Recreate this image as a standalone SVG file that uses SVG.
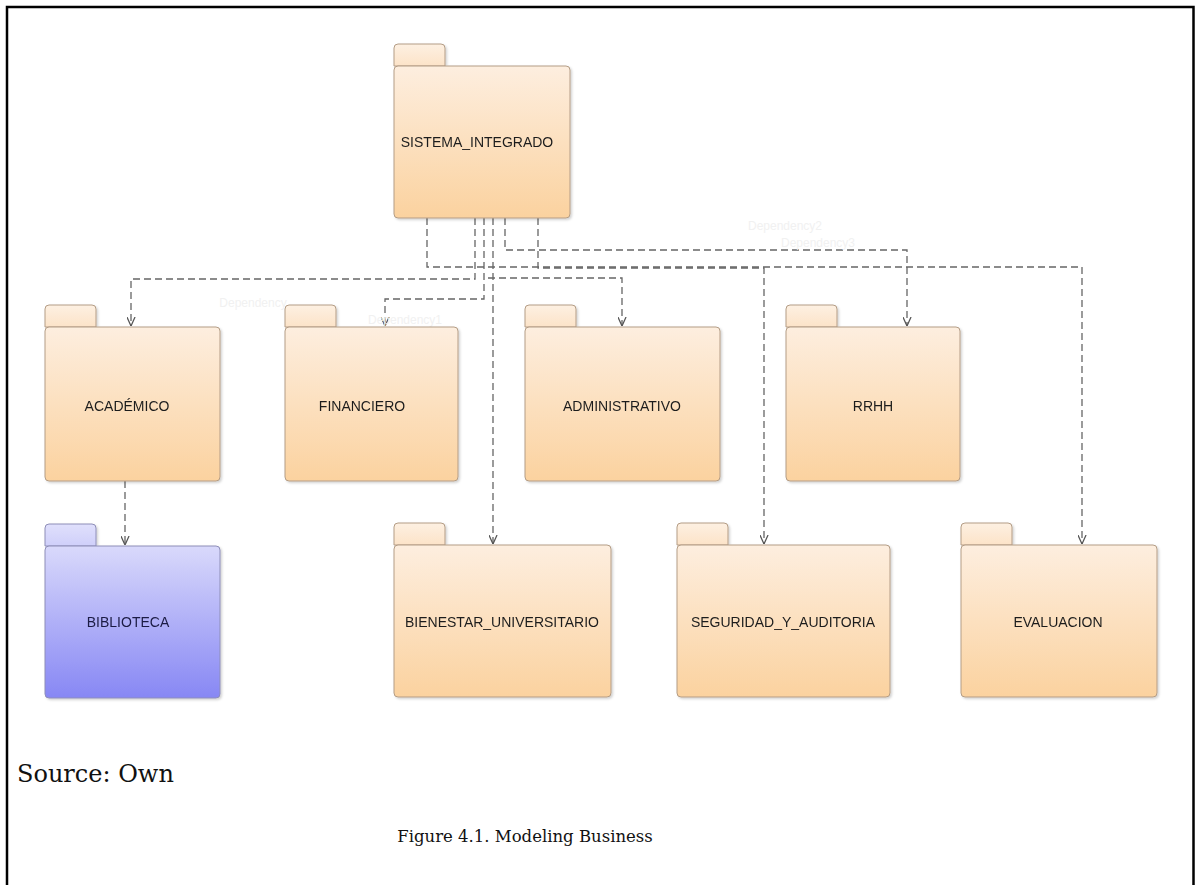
<svg xmlns="http://www.w3.org/2000/svg" width="1195" height="885" viewBox="0 0 1195 885">
<style>
.lbl{font-family:"Liberation Sans",Arial,sans-serif;font-size:14px;fill:#1e1e1e;text-anchor:middle}
.blbl{font-family:"Liberation Sans",Arial,sans-serif;font-size:14px;fill:#1c1c44;text-anchor:middle}
.pk{stroke:#b49d86;stroke-width:1}
.pkb{stroke:#8e8eb8;stroke-width:1}
.con{fill:none;stroke:#666;stroke-width:1.3;stroke-dasharray:7 4}
.dep{font-family:"Liberation Sans",Arial,sans-serif;font-size:12px;fill:#f1f1f1}
.cap{font-family:"DejaVu Serif","Liberation Serif",serif;fill:#111}
</style>
<defs>
<linearGradient id="org" x1="0" y1="0" x2="0" y2="1">
<stop offset="0" stop-color="#fdeedf"/>
<stop offset="1" stop-color="#fbd29f"/>
</linearGradient>
<linearGradient id="orgTab" x1="0" y1="0" x2="0" y2="1">
<stop offset="0" stop-color="#fdf0e2"/>
<stop offset="1" stop-color="#fce3c8"/>
</linearGradient>
<linearGradient id="blu" x1="0" y1="0" x2="0" y2="1">
<stop offset="0" stop-color="#d9d9fb"/>
<stop offset="1" stop-color="#8787f4"/>
</linearGradient>
<linearGradient id="bluTab" x1="0" y1="0" x2="0" y2="1">
<stop offset="0" stop-color="#e0e0fc"/>
<stop offset="1" stop-color="#cfcffa"/>
</linearGradient>
<filter id="sh" x="-5%" y="-5%" width="112%" height="112%">
<feDropShadow dx="1.5" dy="1.5" stdDeviation="1.2" flood-color="#000" flood-opacity="0.18"/>
</filter>
<marker id="arr" viewBox="0 0 10 10" refX="10" refY="5" markerWidth="9" markerHeight="9" markerUnits="userSpaceOnUse" orient="auto">
<path d="M0,0.5 L10,5 L0,9.5" fill="none" stroke="#555" stroke-width="1.4" stroke-dasharray="none"/>
</marker>
</defs>
<rect width="1195" height="885" fill="#fff"/>
<path d="M7,885 V7 H1193.5 V885" fill="none" stroke="#000" stroke-width="2.5"/>

<g id="connectors">
<path class="con" d="M427,218 V267 H1082 V544" marker-end="url(#arr)"/>
<path class="con" d="M538,218 V268 H764 V544" marker-end="url(#arr)"/>
<path class="con" d="M505,218 V250 H907 V326" marker-end="url(#arr)"/>
<path class="con" d="M475,218 V279 H131 V326" marker-end="url(#arr)"/>
<path class="con" d="M484,218 V299 H385 V326" marker-end="url(#arr)"/>
<path class="con" d="M488,278 H622 V326" marker-end="url(#arr)"/>
<path class="con" d="M493,218 V544" marker-end="url(#arr)"/>
<path class="con" d="M125,481 V545" marker-end="url(#arr)"/>
<text class="dep" x="785" y="230" text-anchor="middle">Dependency2</text>
<text class="dep" x="818" y="247" text-anchor="middle">Dependency3</text>
<text class="dep" x="253" y="307" text-anchor="middle">Dependency</text>
<text class="dep" x="405" y="324" text-anchor="middle">Dependency1</text>
</g>

<g id="SISTEMA_INTEGRADO" filter="url(#sh)">
<path class="pk" d="M394,66 V48 Q394,44 398,44 H441 Q445,44 445,48 V66 Z" fill="url(#orgTab)"/>
<rect class="pk" x="394" y="66" width="176" height="152" rx="4" fill="url(#org)"/>
<text class="lbl" x="477" y="147">SISTEMA_INTEGRADO</text>
</g>

<g id="ACADEMICO" filter="url(#sh)">
<path class="pk" d="M45,327 V309 Q45,305 49,305 H92 Q96,305 96,309 V327 Z" fill="url(#orgTab)"/>
<rect class="pk" x="45" y="327" width="175" height="154" rx="4" fill="url(#org)"/>
<text class="lbl" x="127" y="411">ACADÉMICO</text>
</g>

<g id="FINANCIERO" filter="url(#sh)">
<path class="pk" d="M285,327 V309 Q285,305 289,305 H332 Q336,305 336,309 V327 Z" fill="url(#orgTab)"/>
<rect class="pk" x="285" y="327" width="173" height="154" rx="4" fill="url(#org)"/>
<text class="lbl" x="362" y="411">FINANCIERO</text>
</g>

<g id="ADMINISTRATIVO" filter="url(#sh)">
<path class="pk" d="M525,327 V309 Q525,305 529,305 H572 Q576,305 576,309 V327 Z" fill="url(#orgTab)"/>
<rect class="pk" x="525" y="327" width="195" height="154" rx="4" fill="url(#org)"/>
<text class="lbl" x="622" y="411">ADMINISTRATIVO</text>
</g>

<g id="RRHH" filter="url(#sh)">
<path class="pk" d="M786,327 V309 Q786,305 790,305 H833 Q837,305 837,309 V327 Z" fill="url(#orgTab)"/>
<rect class="pk" x="786" y="327" width="174" height="154" rx="4" fill="url(#org)"/>
<text class="lbl" x="873" y="411">RRHH</text>
</g>

<g id="BIBLIOTECA" filter="url(#sh)">
<path class="pkb" d="M45,546 V528 Q45,524 49,524 H92 Q96,524 96,528 V546 Z" fill="url(#bluTab)"/>
<rect class="pkb" x="45" y="546" width="175" height="152" rx="4" fill="url(#blu)"/>
<text class="blbl" x="128" y="627">BIBLIOTECA</text>
</g>

<g id="BIENESTAR_UNIVERSITARIO" filter="url(#sh)">
<path class="pk" d="M394,545 V527 Q394,523 398,523 H441 Q445,523 445,527 V545 Z" fill="url(#orgTab)"/>
<rect class="pk" x="394" y="545" width="217" height="152" rx="4" fill="url(#org)"/>
<text class="lbl" x="502" y="627">BIENESTAR_UNIVERSITARIO</text>
</g>

<g id="SEGURIDAD_Y_AUDITORIA" filter="url(#sh)">
<path class="pk" d="M677,545 V527 Q677,523 681,523 H724 Q728,523 728,527 V545 Z" fill="url(#orgTab)"/>
<rect class="pk" x="677" y="545" width="213" height="152" rx="4" fill="url(#org)"/>
<text class="lbl" x="783" y="627">SEGURIDAD_Y_AUDITORIA</text>
</g>

<g id="EVALUACION" filter="url(#sh)">
<path class="pk" d="M961,545 V527 Q961,523 965,523 H1008 Q1012,523 1012,527 V545 Z" fill="url(#orgTab)"/>
<rect class="pk" x="961" y="545" width="196" height="152" rx="4" fill="url(#org)"/>
<text class="lbl" x="1058" y="627">EVALUACION</text>
</g>

<text class="cap" x="17" y="782" font-size="24">Source: Own</text>
<text class="cap" x="525" y="842" font-size="16.5" text-anchor="middle">Figure 4.1. Modeling Business</text>
</svg>
